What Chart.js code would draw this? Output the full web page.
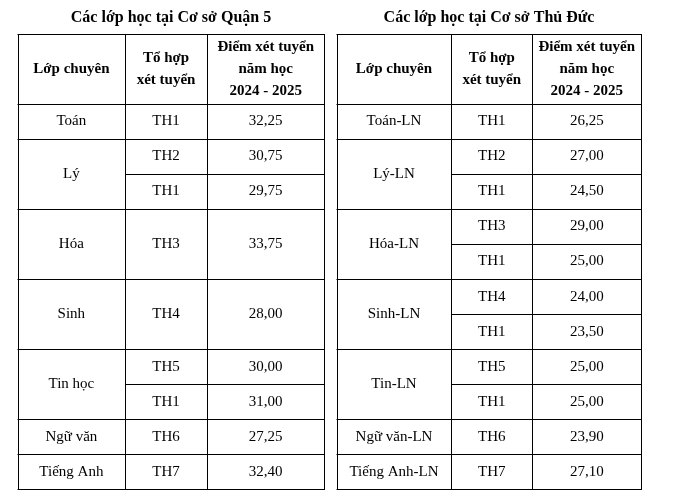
<!DOCTYPE html>
<html><head><meta charset="utf-8">
<script src="https://cdn.jsdelivr.net/npm/chart.js@4/dist/chart.umd.min.js"></script>
<style>
html,body{margin:0;padding:0;background:#fff;width:698px;height:493px;overflow:hidden}
.w{position:absolute;top:0;height:493px}
</style></head><body>
<div class="w" style="left:17px;width:308px"><canvas id="c1"></canvas></div>
<div class="w" style="left:336px;width:306px"><canvas id="c2"></canvas></div>
<script>
const leftTitle = 'Các lớp học tại Cơ sở Quận 5';
const leftClasses = ['Toán','Lý','Hóa','Sinh','Tin học','Ngữ văn','Tiếng Anh'];
const leftCombos = [['TH1'],['TH2','TH1'],['TH3'],['TH4'],['TH5','TH1'],['TH6'],['TH7']];
const leftScores = [[32.25],[30.75,29.75],[33.75],[28.00],[30.00,31.00],[27.25],[32.40]];
const rightTitle = 'Các lớp học tại Cơ sở Thủ Đức';
const rightClasses = ['Toán-LN','Lý-LN','Hóa-LN','Sinh-LN','Tin-LN','Ngữ văn-LN','Tiếng Anh-LN'];
const rightCombos = [['TH1'],['TH2','TH1'],['TH3','TH1'],['TH4','TH1'],['TH5','TH1'],['TH6'],['TH7']];
const rightScores = [[26.25],[27.00,24.50],[29.00,25.00],[24.00,23.50],[25.00,25.00],[23.90],[27.10]];
const rowSpans = [1,2,2,2,2,1,1];
const headCol1 = ['Lớp chuyên'];
const headCol2 = ['Tổ hợp','xét tuyển'];
const headCol3 = ['Điểm xét tuyển','năm học','2024 - 2025'];

function fmt(v){return v.toFixed(2).replace('.',',');}

function makeTable(id, title, classes, combos, scores, edges){
  const plugin = {id:'tbl'+id, afterDraw(chart){
    const ctx = chart.ctx, X = chart.scales.x, Y = chart.scales.y;
    const px = v=>X.getPixelForValue(v), py = v=>Y.getPixelForValue(v);
    ctx.save();
    ctx.fillStyle='#000'; ctx.strokeStyle='#000'; ctx.lineWidth=1;
    ctx.textAlign='center'; ctx.textBaseline='middle';
    ctx.font='bold 16px "Liberation Serif"';
    ctx.fillText(title, px(50), py(-0.45));
    const line=(x1,y1,x2,y2)=>{ctx.beginPath();ctx.moveTo(Math.round(x1)+0.5,Math.round(y1)+0.5);ctx.lineTo(Math.round(x2)+0.5,Math.round(y2)+0.5);ctx.stroke();};
    const cx=i=>(px(edges[i])+px(edges[i+1]))/2;
    // header
    ctx.font='bold 15px "Liberation Serif"';
    const hdr=[headCol1,headCol2,headCol3];
    hdr.forEach((ls,i)=>{ls.forEach((t,k)=>{ctx.fillText(t,cx(i),py(1+(k-(ls.length-1)/2)*0.63));});});
    let total=2; rowSpans.forEach(s=>total+=s);
    // outer and vertical lines
    edges.forEach(e=>line(px(e),py(0),px(e),py(total)));
    line(px(0),py(0),px(100),py(0));
    line(px(0),py(2),px(100),py(2));
    ctx.font='15px "Liberation Serif"';
    let y=2;
    classes.forEach((c,i)=>{
      const span=rowSpans[i], n=combos[i].length, sub=span/n;
      ctx.fillText(c,cx(0),py(y+span/2));
      combos[i].forEach((t,k)=>{
        const yc=y+sub*(k+0.5);
        ctx.fillText(t,cx(1),py(yc));
        ctx.fillText(fmt(scores[i][k]),cx(2),py(yc));
        if(k>0) line(px(edges[1]),py(y+sub*k),px(100),py(y+sub*k));
      });
      y+=span;
      line(px(0),py(y),px(100),py(y));
    });
    ctx.restore();
  }};
  new Chart(document.getElementById(id),{
    type:'scatter', data:{datasets:[]},
    options:{responsive:true,maintainAspectRatio:false,animation:false,
      layout:{padding:0},
      plugins:{legend:{display:false},tooltip:{enabled:false}},
      scales:{x:{type:'linear',min:0,max:100,display:false},
              y:{type:'linear',reverse:true,min:-0.97,max:13.11,display:false}}},
    plugins:[plugin]});
}
makeTable('c1',leftTitle,leftClasses,leftCombos,leftScores,[0.3,35,61.8,99.7]);
makeTable('c2',rightTitle,rightClasses,rightCombos,rightScores,[0.3,37.6,64.2,99.7]);
</script>
</body></html>
